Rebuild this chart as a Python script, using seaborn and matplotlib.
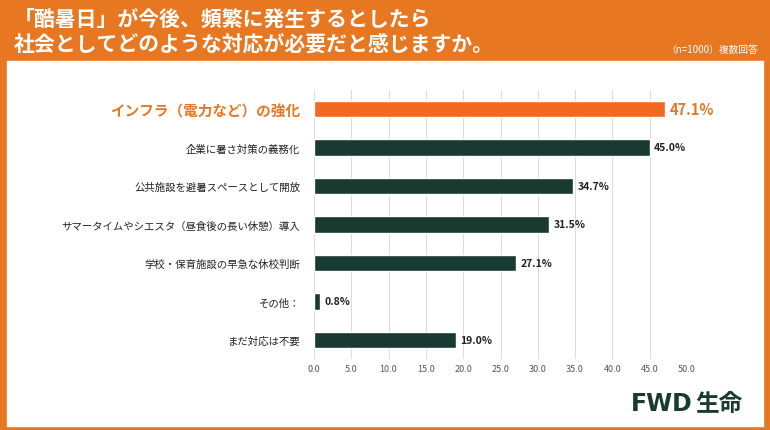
import matplotlib.pyplot as plt
import seaborn as sns
import pandas as pd
from matplotlib.patches import Rectangle

labels = ["インフラ（電力など）の強化", "企業に暑さ対策の義務化", "公共施設を避暑スペースとして開放",
          "サマータイムやシエスタ（昼食後の長い休憩）導入", "学校・保育施設の早急な休校判断",
          "その他：", "まだ対応は不要"]
values = [47.1, 45.0, 34.7, 31.5, 27.1, 0.8, 19.0]
ticks = [0, 5, 10, 15, 20, 25, 30, 35, 40, 45, 50]

ORANGE = "#E87722"
BAR_ORANGE = "#F26A21"
DARK = "#183A30"

sns.set_style("white")
plt.rcParams['font.family'] = ['Noto Sans CJK JP', 'DejaVu Sans']

df = pd.DataFrame({"label": labels, "value": values})
fig = plt.figure(figsize=(7.7, 4.31), dpi=100)
fig.patches.append(Rectangle((0, 0), 1, 1, transform=fig.transFigure, color=ORANGE, zorder=-2))
fig.patches.append(Rectangle((7/770, 4/431), 756/770, 365/431, transform=fig.transFigure,
                             color="white", zorder=-1))
fig.text(14/770, 1 - 19/431, "「酷暑日」が今後、頻繁に発生するとしたら", color="white",
         fontsize=15, fontweight="bold", va="center")
fig.text(14/770, 1 - 45/431, "社会としてどのような対応が必要だと感じますか。", color="white",
         fontsize=15, fontweight="bold", va="center")
fig.text(758/770, 1 - 50/431, "（n=1000）複数回答", color="white", fontsize=7, ha="right", va="center")

ax = fig.add_axes([314/770, 0.1642, 373/770, 0.6253])
colors = [BAR_ORANGE] + [DARK] * 6
sns.barplot(data=df, x="value", y="label", hue="label", palette=colors, legend=False,
            width=0.42, saturation=1, ax=ax, zorder=3)
ax.set_xlim(0, 50)
ax.set_xticks(ticks)
ax.set_xticklabels([f"{t:.1f}" for t in ticks], fontsize=6.5, color="#555555")
ax.grid(axis="x", color="#dddddd", linewidth=0.8, zorder=0)
ax.set_xlabel("")
ax.set_ylabel("")
for s in ax.spines.values():
    s.set_visible(False)
ax.tick_params(axis="both", length=0)
ax.tick_params(axis="y", pad=10)
for i, lab in enumerate(ax.get_yticklabels()):
    if i == 0:
        lab.set_color(ORANGE); lab.set_fontsize(10.5); lab.set_fontweight("bold")
    else:
        lab.set_color("#222222"); lab.set_fontsize(7.5)
for i, v in enumerate(values):
    if i == 0:
        ax.text(v + 0.6, i, f"{v:.1f}%", color=ORANGE, fontsize=10.5, fontweight="bold", va="center")
    else:
        ax.text(v + 0.6, i, f"{v:.1f}%", color="#222222", fontsize=7.5, fontweight="bold", va="center")

fig.text(693/770, 1 - 404/431, "FWD", color=DARK, fontsize=17, fontweight="bold",
         ha="right", va="center", family="DejaVu Sans")
fig.text(695/770, 1 - 404/431, "生命", color=DARK, fontsize=17, fontweight="bold",
         ha="left", va="center")

fig.savefig("out.png", dpi=100)
